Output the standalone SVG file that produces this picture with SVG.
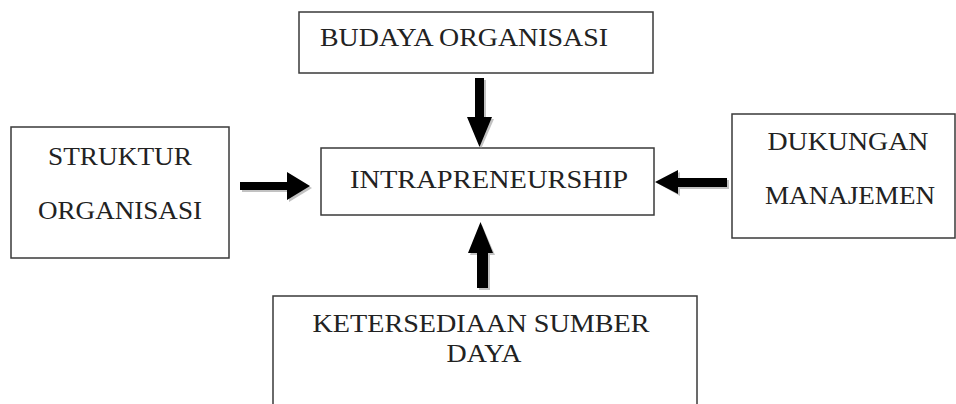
<svg xmlns="http://www.w3.org/2000/svg" width="956" height="404" viewBox="0 0 956 404">
<style>
.box{fill:#fff;stroke:#3a3a3a;stroke-width:1.5}
.t{font-family:"Liberation Serif","Times New Roman",serif;font-size:26px;fill:#222;text-anchor:middle}
.arr{fill:#000}
.sh{fill:#999;opacity:0.6}
</style>
<rect width="956" height="404" fill="#fff"/>
<g id="budaya">
<rect class="box" x="299" y="12" width="354" height="61"/>
<text class="t" x="464" y="46" textLength="288" lengthAdjust="spacingAndGlyphs">BUDAYA ORGANISASI</text>
</g>
<g id="intrapreneurship">
<rect class="box" x="321" y="148" width="333" height="67"/>
<text class="t" x="489" y="188" textLength="278" lengthAdjust="spacingAndGlyphs">INTRAPRENEURSHIP</text>
</g>
<g id="struktur">
<rect class="box" x="11" y="127" width="218" height="131"/>
<text class="t" x="120" y="165" textLength="144" lengthAdjust="spacingAndGlyphs">STRUKTUR</text>
<text class="t" x="120" y="219" textLength="164" lengthAdjust="spacingAndGlyphs">ORGANISASI</text>
</g>
<g id="dukungan">
<rect class="box" x="732" y="114" width="223" height="124"/>
<text class="t" x="848" y="150" textLength="161" lengthAdjust="spacingAndGlyphs">DUKUNGAN</text>
<text class="t" x="850" y="204" textLength="170" lengthAdjust="spacingAndGlyphs">MANAJEMEN</text>
</g>
<g id="ketersediaan">
<rect class="box" x="273" y="296" width="424" height="120"/>
<text class="t" x="481" y="332" textLength="337" lengthAdjust="spacingAndGlyphs">KETERSEDIAAN SUMBER</text>
<text class="t" x="484" y="362" textLength="75" lengthAdjust="spacingAndGlyphs">DAYA</text>
</g>
<g id="connectors">
<polygon class="sh" points="477,80 486,80 486,119 494,119 481,149 469,119 477,119"/>
<polygon class="arr" points="475,78 484,78 484,117 492,117 479.5,147 467,117 475,117"/>
<polygon class="sh" points="242,184 289,184 289,174 312,188 289,202 289,192 242,192"/>
<polygon class="arr" points="240,182 287,182 287,172 310,186 287,200 287,190 240,190"/>
<polygon class="sh" points="729,180 680,180 680,172 657,183 680,196 680,189 729,189"/>
<polygon class="arr" points="727,178 678,178 678,170 655,182 678,194 678,187 727,187"/>
<polygon class="sh" points="479,290 490,290 490,255 495,255 482,225 470,255 479,255"/>
<polygon class="arr" points="477,288 488,288 488,253 493,253 480.5,222 468,253 477,253"/>
</g>
</svg>
